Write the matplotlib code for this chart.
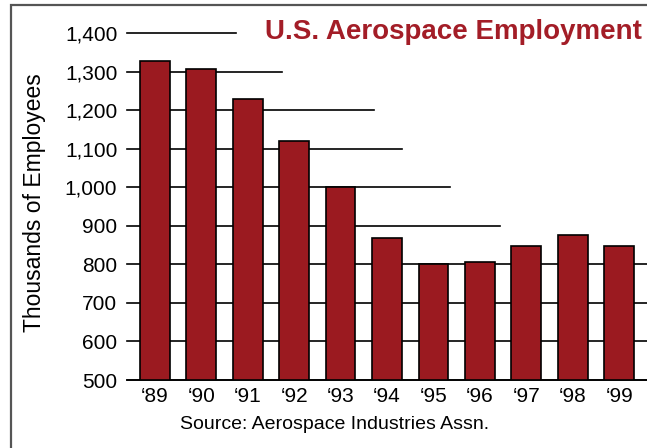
import matplotlib
matplotlib.use("Agg")
import matplotlib.pyplot as plt
from matplotlib.patches import Rectangle

plt.rcParams['font.family'] = ['Liberation Sans', 'DejaVu Sans']

years = ["\u201889", "\u201890", "\u201891", "\u201892", "\u201893", "\u201894",
         "\u201895", "\u201896", "\u201897", "\u201898", "\u201899"]
employees = [1328, 1307, 1229, 1121, 1000, 868, 800, 805, 847, 876, 847]
yticks = [500, 600, 700, 800, 900, 1000, 1100, 1200, 1300, 1400]
ytick_labels = ["500", "600", "700", "800", "900", "1,000", "1,100", "1,200", "1,300", "1,400"]
# how far each gridline runs before the title area cuts it off (axes fraction)
grid_ends = [1, 1, 1, 1, 0.717, 0.621, 0.529, 0.475, 0.298, 0.21]

bar_color = "#9b1a20"
title_color = "#a31d27"

fig = plt.figure(figsize=(6.47, 4.48), dpi=100)
ax = fig.add_axes([127/647, 1 - 380/448, 520/647, (380 - 33)/448])

for y, xe in zip(yticks, grid_ends):
    ax.axhline(y, xmin=0, xmax=xe, color="black", lw=1.2, zorder=1, clip_on=False)

x = range(len(years))
ax.bar(x, employees, width=0.64, color=bar_color, edgecolor="black", linewidth=1.2, zorder=2)

ax.set_xlim(-0.6, 10.6)
ax.set_ylim(500, 1400)
ax.set_yticks(yticks)
ax.set_yticklabels(ytick_labels)
ax.set_xticks(list(x))
ax.set_xticklabels(years)
ax.tick_params(axis="y", length=0, pad=7, labelsize=15)
ax.tick_params(axis="x", length=0, pad=5, labelsize=15)

for s in ["top", "right", "left"]:
    ax.spines[s].set_visible(False)
ax.spines["bottom"].set_linewidth(1.2)
ax.spines["bottom"].set_zorder(3)

fig.text(35/647, 1 - 203/448, "Thousands of Employees", rotation=90,
         ha="center", va="center", fontsize=16.5)
fig.text(265/647, 1 - 32/448, "U.S. Aerospace Employment", color=title_color,
         fontsize=20, fontweight="bold", ha="left", va="center")
fig.text(335/647, 1 - 424/448, "Source: Aerospace Industries Assn.",
         ha="center", va="center", fontsize=14)

# outer frame, runs off the right and bottom edges
fig.patches.append(Rectangle((11/647, -0.05), 1.0, 1 - 5/448 + 0.05,
                             transform=fig.transFigure, fill=False,
                             edgecolor="#555555", linewidth=1.6))

fig.savefig("out.png", dpi=100)
